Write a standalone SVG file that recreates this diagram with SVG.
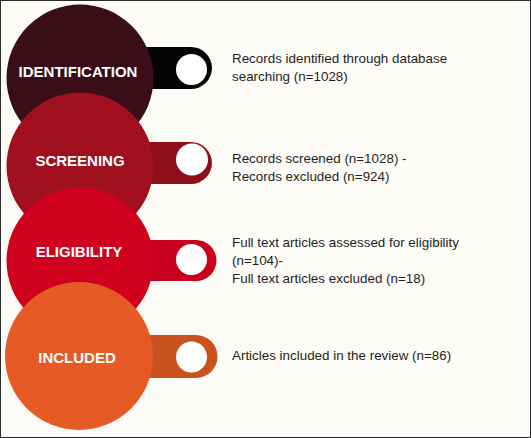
<svg xmlns="http://www.w3.org/2000/svg" width="531" height="438" viewBox="0 0 531 438">
<style>
.lbl{font-family:"Liberation Sans",Arial,sans-serif;font-weight:bold;font-size:15px;fill:#ffffff;text-anchor:middle}
.txt{font-family:"Liberation Sans",Arial,sans-serif;font-size:13.4px;fill:#1f1f1f}
.hole{fill:#ffffff}
</style>
<rect x="0.5" y="0.5" width="530" height="437" fill="#fdfbf5" stroke="#2a2a2a" stroke-width="1"/>
<g id="identification">
  <path d="M130 47 H191 A21 21 0 0 1 191 89 H130 Z" fill="#050505"/>
  <circle class="hole" cx="191.5" cy="69.5" r="15.5"/>
  <circle cx="80" cy="78" r="73.5" fill="#3a0e18"/>
  <text class="lbl" x="78" y="76.5">IDENTIFICATION</text>
  <text class="txt" x="232" y="63">Records identified through database</text>
  <text class="txt" x="232" y="81">searching (n=1028)</text>
</g>
<g id="screening">
  <path d="M130 142 H191 A21 21 0 0 1 191 184 H130 Z" fill="#8e0e1a"/>
  <circle class="hole" cx="192" cy="159.5" r="16"/>
  <circle cx="80" cy="166" r="73.5" fill="#a0101f"/>
  <text class="lbl" x="80" y="165.5">SCREENING</text>
  <text class="txt" x="232" y="163">Records screened (n=1028) -</text>
  <text class="txt" x="232" y="181">Records excluded (n=924)</text>
</g>
<g id="eligibility">
  <path d="M130 240 H196 A20.5 20.5 0 0 1 196 281 H130 Z" fill="#c9001d"/>
  <circle class="hole" cx="191.5" cy="259.5" r="15.5"/>
  <circle cx="80" cy="261" r="73.5" fill="#d0011f"/>
  <text class="lbl" x="79" y="256.5">ELIGIBILITY</text>
  <text class="txt" x="232" y="247">Full text articles assessed for eligibility</text>
  <text class="txt" x="232" y="265">(n=104)-</text>
  <text class="txt" x="232" y="283">Full text articles excluded (n=18)</text>
</g>
<g id="included">
  <path d="M130 335 H196 A21.5 21.5 0 0 1 196 378 H130 Z" fill="#c9521f"/>
  <circle class="hole" cx="191.5" cy="357" r="15.5"/>
  <circle cx="79" cy="356" r="74" fill="#e65a25"/>
  <text class="lbl" x="77" y="362.5">INCLUDED</text>
  <text class="txt" x="232" y="360">Articles included in the review (n=86)</text>
</g>
</svg>
